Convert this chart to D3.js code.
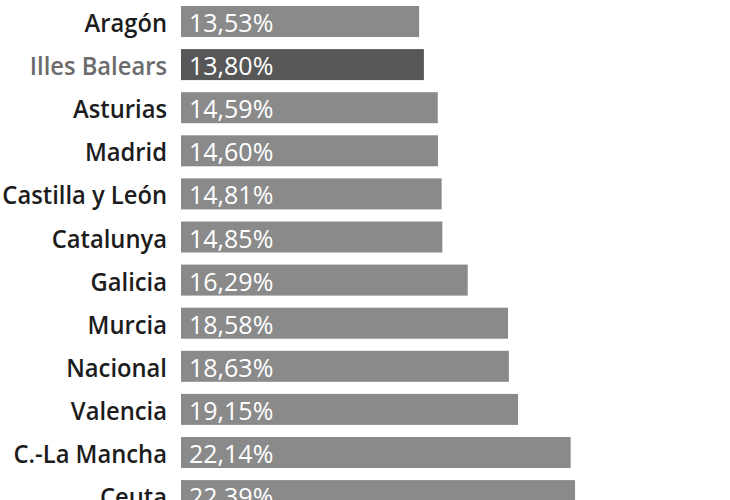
<!DOCTYPE html>
<html><head><meta charset="utf-8">
<script src="https://cdn.jsdelivr.net/npm/d3@7"></script>
<style>body{margin:0;background:#fff;}svg{display:block;}</style>
</head><body>
<script>
const categories = ["Aragón","Illes Balears","Asturias","Madrid","Castilla y León","Catalunya","Galicia","Murcia","Nacional","Valencia","C.-La Mancha","Ceuta"];
const values = [13.53,13.80,14.59,14.60,14.81,14.85,16.29,18.58,18.63,19.15,22.14,22.39];
const highlight = "Illes Balears";

const W = 730, H = 500;
const svg = d3.select("body").append("svg").attr("width", W).attr("height", H);
const x = d3.scaleLinear().domain([0, 10]).range([181, 357]);
const step = 43.1, gap = 12.1;
const y = d3.scaleBand().domain(categories)
  .range([6 - gap/2, 6 - gap/2 + step*categories.length])
  .paddingInner(gap/step).paddingOuter(gap/2/step);

const row = svg.selectAll("g.row").data(categories).enter().append("g").attr("class","row");
row.append("rect")
  .attr("x", x(0))
  .attr("y", d => y(d))
  .attr("width", (d,i) => x(values[i]) - x(0))
  .attr("height", y.bandwidth())
  .attr("fill", d => d === highlight ? "#575757" : "#8a8a8a");
row.append("text")
  .attr("transform", d => `translate(167,${y(d) + y.bandwidth()/2 + 10.5}) scale(0.914,1)`)
  .attr("text-anchor","end")
  .attr("font-family","Open Sans")
  .attr("font-weight", 600)
  .attr("font-size", 26)
  .attr("fill", d => d === highlight ? "#6b6b6b" : "#1c1c1c")
  .text(d => d);
row.append("text")
  .attr("x", x(0) + 8)
  .attr("y", d => y(d) + y.bandwidth()/2 + 10.5)
  .attr("font-family","Open Sans")
  .attr("font-size", 25)
  .attr("fill", "#ffffff")
  .text((d,i) => d3.format(".2f")(values[i]).replace(".", ",") + "%");
</script>
</body></html>
